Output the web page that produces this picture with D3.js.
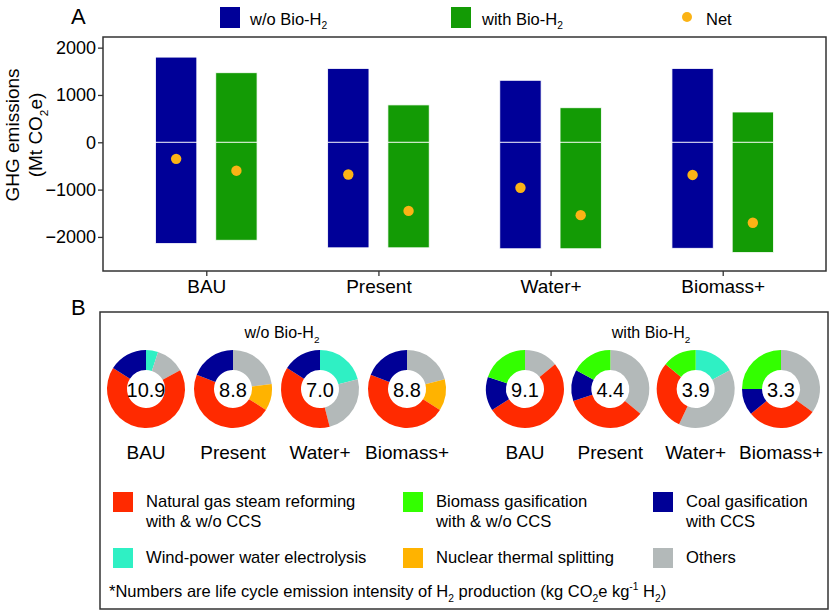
<!DOCTYPE html>
<html>
<head>
<meta charset="utf-8">
<script src="https://cdn.jsdelivr.net/npm/d3@7"></script>
<style>
  body { margin: 0; background: #fff; }
  svg, svg text { font-family: "Liberation Sans", Arial, sans-serif; }
</style>
</head>
<body>
<div id="chart"></div>
<script>
// ---- data ----
const scenarios = ["BAU", "Present", "Water+", "Biomass+"];

// panel A, GHG emissions (Mt CO2e)
const woPositive   = [1800, 1560, 1310, 1560];
const woNegative   = [-2140, -2230, -2250, -2240];
const withPositive = [1470, 790, 730, 640];
const withNegative = [-2070, -2230, -2250, -2330];
const woNet        = [-350, -680, -960, -690];
const withNet      = [-600, -1450, -1540, -1700];
const yTicks = [-2000, -1000, 0, 1000, 2000];

// panel B, share of H2 production by pathway (%), clockwise from 12 o'clock
const pathways = ["wind", "others", "nuclear", "gas", "coal", "biomass"];
const shareWo = [
    [5, 12, 0, 67, 16, 0],
    [0, 23, 11, 47, 19, 0],
    [21, 25, 0, 38, 16, 0],
    [0, 21, 13, 47, 19, 0]
];
const shareWith = [
    [0, 14, 0, 52, 14, 20],
    [0, 36, 0, 34, 13, 17],
    [17, 40, 0, 29, 0, 14],
    [0, 35, 0, 29, 11, 25]
];
const intensityWo   = ["10.9", "8.8", "7.0", "8.8"];
const intensityWith = ["9.1", "4.4", "3.9", "3.3"];

const pathwayColor = {
    gas: "#ff2a00", biomass: "#33ff00", coal: "#000096",
    wind: "#2ff0c4", nuclear: "#ffb300", others: "#b3b9b9"
};
const legendItems = [
    { key: "gas", lines: ["Natural gas steam reforming", "with & w/o CCS"] },
    { key: "biomass", lines: ["Biomass gasification", "with & w/o CCS"] },
    { key: "coal", lines: ["Coal gasification", "with CCS"] },
    { key: "wind", lines: ["Wind-power water electrolysis"] },
    { key: "nuclear", lines: ["Nuclear thermal splitting"] },
    { key: "others", lines: ["Others"] }
];

const blue = "#000098", green = "#139b05", orange = "#fbb315";
const FONT = "Liberation Sans, Arial, sans-serif";

const svg = d3.select("#chart").append("svg")
    .attr("width", 830).attr("height", 611)
    .attr("font-family", FONT);

// helper: text with sub/superscripts, parts = [{t, sub|sup}]
function richText(sel, parts, fs) {
    let shift = 0;
    parts.forEach(p => {
        const ts = sel.append("tspan");
        let target = 0;
        if (p.sub) target = fs * 0.3;
        if (p.sup) target = -fs * 0.4;
        if (p.sub || p.sup) ts.attr("font-size", fs * 0.62);
        if (target !== shift) ts.attr("dy", target - shift);
        shift = target;
        ts.text(p.t);
    });
    return sel;
}

/* * * * * * * * * * *
 *      PANEL A      *
 * * * * * * * * * * */
const A = { left: 103, right: 826, top: 37, bottom: 271 };

const x = d3.scaleLinear().domain([0.4, 4.6]).range([A.left, A.right]);
const y = d3.scaleLinear().domain([-2720, 2225]).range([A.bottom, A.top]);
const barW = x(1.24) - x(1);
const offset = 0.175;

svg.append("text").attr("x", 71).attr("y", 23.5).attr("font-size", 22).text("A");

// top legend
const legA = svg.append("g");
legA.append("rect").attr("x", 220).attr("y", 7).attr("width", 20).attr("height", 21).attr("fill", blue);
richText(legA.append("text").attr("x", 250).attr("y", 24.5).attr("font-size", 16.5),
    [{ t: "w/o Bio-H" }, { t: "2", sub: true }], 16.5);
legA.append("rect").attr("x", 451).attr("y", 7).attr("width", 20).attr("height", 21).attr("fill", green);
richText(legA.append("text").attr("x", 482).attr("y", 24.5).attr("font-size", 16.5),
    [{ t: "with Bio-H" }, { t: "2", sub: true }], 16.5);
legA.append("circle").attr("cx", 687).attr("cy", 17).attr("r", 5).attr("fill", orange);
legA.append("text").attr("x", 706).attr("y", 24.5).attr("font-size", 16.5).text("Net");

// bars
const series = [
    { pos: woPositive, neg: woNegative, net: woNet, color: blue, dx: -offset },
    { pos: withPositive, neg: withNegative, net: withNet, color: green, dx: offset }
];
series.forEach(s => {
    const g = svg.append("g");
    const rows = scenarios.map((c, i) => ({ i, pos: s.pos[i], neg: s.neg[i], net: s.net[i] }));
    g.selectAll(".pos").data(rows).enter().append("rect")
        .attr("x", d => x(d.i + 1 + s.dx) - barW / 2)
        .attr("y", d => y(d.pos))
        .attr("width", barW)
        .attr("height", d => y(0) - y(d.pos))
        .attr("fill", s.color).attr("stroke", "#fff").attr("stroke-width", 0.8);
    g.selectAll(".neg").data(rows).enter().append("rect")
        .attr("x", d => x(d.i + 1 + s.dx) - barW / 2)
        .attr("y", y(0))
        .attr("width", barW)
        .attr("height", d => y(d.neg) - y(0))
        .attr("fill", s.color).attr("stroke", "#fff").attr("stroke-width", 0.8);
    g.selectAll("circle").data(rows).enter().append("circle")
        .attr("cx", d => x(d.i + 1 + s.dx))
        .attr("cy", d => y(d.net))
        .attr("r", 5.2)
        .attr("fill", orange);
});

// frame + axes
svg.append("rect")
    .attr("x", A.left).attr("y", A.top)
    .attr("width", A.right - A.left).attr("height", A.bottom - A.top)
    .attr("fill", "none").attr("stroke", "#333").attr("stroke-width", 1.5);

const yAxis = svg.append("g")
    .attr("transform", `translate(${A.left},0)`)
    .call(d3.axisLeft(y).tickValues(yTicks).tickFormat(d3.format("d")).tickSize(5).tickPadding(2));
yAxis.attr("font-family", FONT);
yAxis.select(".domain").remove();
yAxis.selectAll(".tick line").attr("stroke", "#333").attr("stroke-width", 1.3);
yAxis.selectAll(".tick text").attr("font-size", 18).attr("fill", "#000");

const xAxis = svg.append("g")
    .attr("transform", `translate(0,${A.bottom})`)
    .call(d3.axisBottom(x).tickValues([1, 2, 3, 4]).tickFormat(d => scenarios[d - 1]).tickSize(5).tickPadding(4));
xAxis.attr("font-family", FONT);
xAxis.select(".domain").remove();
xAxis.selectAll(".tick line").attr("stroke", "#333").attr("stroke-width", 1.3);
xAxis.selectAll(".tick text").attr("font-size", 19).attr("fill", "#000");

const yTitle = svg.append("g").attr("transform", "translate(0,135) rotate(-90)");
yTitle.append("text").attr("x", 0).attr("y", 19).attr("text-anchor", "middle")
    .attr("font-size", 19).text("GHG emissions");
richText(yTitle.append("text").attr("x", 0).attr("y", 42).attr("text-anchor", "middle").attr("font-size", 19),
    [{ t: "(Mt CO" }, { t: "2", sub: true }, { t: "e)" }], 19);

/* * * * * * * * * * *
 *      PANEL B      *
 * * * * * * * * * * */
const B = { left: 100, right: 828, top: 312, bottom: 609 };

svg.append("text").attr("x", 71).attr("y", 315).attr("font-size", 22).text("B");
svg.append("rect")
    .attr("x", B.left).attr("y", B.top)
    .attr("width", B.right - B.left).attr("height", B.bottom - B.top)
    .attr("fill", "none").attr("stroke", "#333").attr("stroke-width", 1.5);

richText(svg.append("text").attr("x", 282).attr("y", 338).attr("text-anchor", "middle").attr("font-size", 16),
    [{ t: "w/o Bio-H" }, { t: "2", sub: true }], 16);
richText(svg.append("text").attr("x", 651).attr("y", 338).attr("text-anchor", "middle").attr("font-size", 16),
    [{ t: "with Bio-H" }, { t: "2", sub: true }], 16);

const pie = d3.pie().sort(null).value(d => d.v);
const arc = d3.arc().innerRadius(19).outerRadius(39);
const donutY = 389;

const groups = [
    { shares: shareWo, labels: intensityWo, xs: d3.scalePoint().domain(scenarios).range([146, 407]) },
    { shares: shareWith, labels: intensityWith, xs: d3.scalePoint().domain(scenarios).range([525, 781]) }
];
groups.forEach(grp => {
    scenarios.forEach((sc, i) => {
        const g = svg.append("g").attr("transform", `translate(${grp.xs(sc)},${donutY})`);
        const vals = pathways.map((p, k) => ({ key: p, v: grp.shares[i][k] }));
        g.selectAll("path").data(pie(vals)).enter().append("path")
            .attr("d", arc)
            .attr("fill", d => pathwayColor[d.data.key]);
        g.append("text").attr("text-anchor", "middle").attr("y", 7.5)
            .attr("font-size", 20).text(grp.labels[i]);
        g.append("text").attr("text-anchor", "middle").attr("y", 70)
            .attr("font-size", 19).text(sc);
    });
});

// pathway legend
const legCols = [113, 403, 653];
const legRows = [492, 548];
legendItems.forEach((item, k) => {
    const lx = legCols[k % 3], ly = legRows[Math.floor(k / 3)];
    svg.append("rect").attr("x", lx).attr("y", ly).attr("width", 20).attr("height", 20)
        .attr("fill", pathwayColor[item.key]);
    const t = svg.append("text").attr("x", lx + 33).attr("y", ly + 14.5).attr("font-size", 16.6);
    item.lines.forEach((ln, j) => {
        t.append("tspan").attr("x", lx + 33).attr("dy", j === 0 ? 0 : 20).text(ln);
    });
});

richText(svg.append("text").attr("x", 109).attr("y", 597).attr("font-size", 16.5),
    [{ t: "*Numbers are life cycle emission intensity of H" }, { t: "2", sub: true },
     { t: " production (kg CO" }, { t: "2", sub: true }, { t: "e kg" },
     { t: "-1", sup: true }, { t: " H" }, { t: "2", sub: true }, { t: ")" }], 16.5);
</script>
</body>
</html>
